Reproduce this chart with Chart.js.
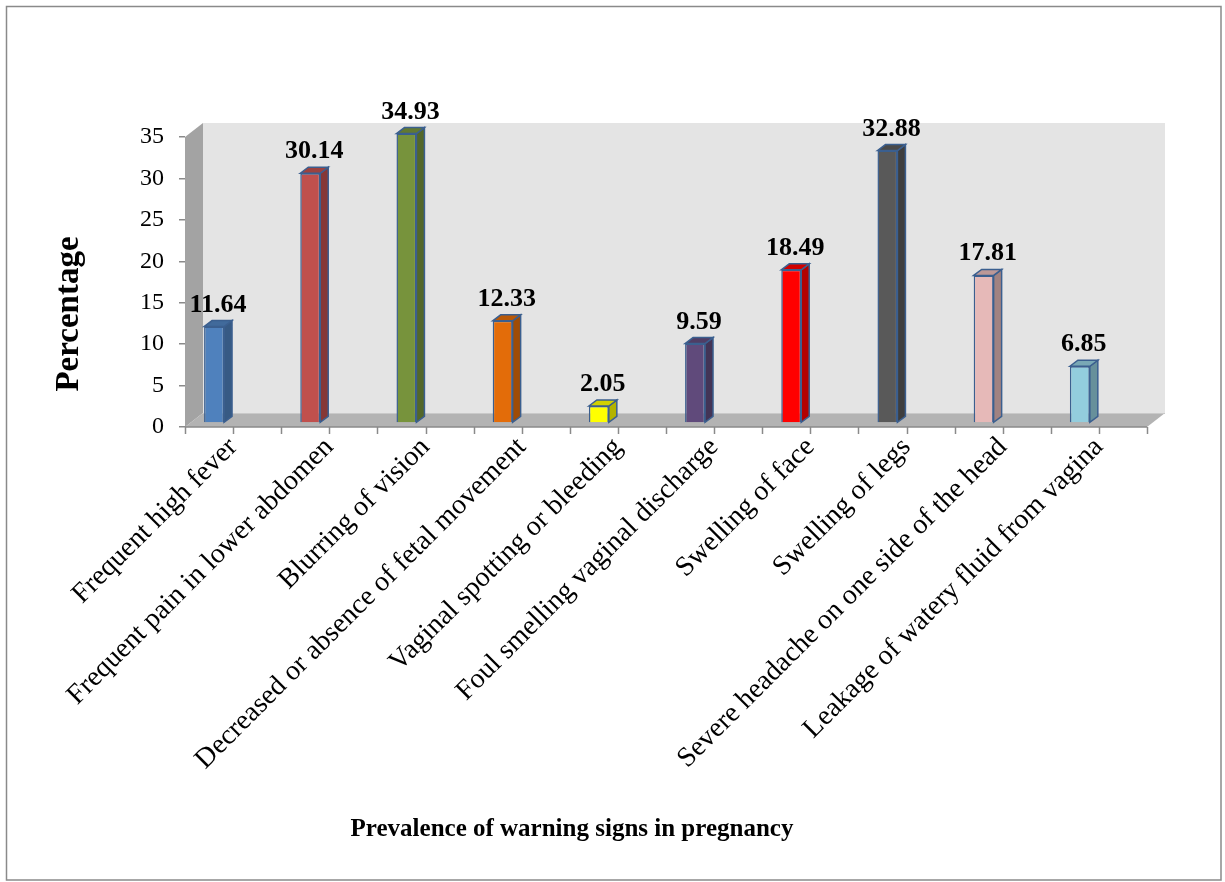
<!DOCTYPE html>
<html>
<head>
<meta charset="utf-8">
<script src="https://cdn.jsdelivr.net/npm/chart.js@4.4.1/dist/chart.umd.min.js"></script>
<style>
  html, body { margin: 0; padding: 0; background: #ffffff; }
  #wrap { position: relative; width: 1225px; height: 882px; }
</style>
</head>
<body>
<div id="wrap"><canvas id="c" width="1225" height="882"></canvas></div>
<script>
// ---------- data ----------
const categories = [
  'Frequent high fever',
  'Frequent pain in lower abdomen',
  'Blurring of vision',
  'Decreased or absence of fetal movement',
  'Vaginal spotting or bleeding',
  'Foul smelling vaginal discharge',
  'Swelling of face',
  'Swelling of legs',
  'Severe headache on one side of the head',
  'Leakage of watery fluid from vagina'
];
const values = [11.64, 30.14, 34.93, 12.33, 2.05, 9.59, 18.49, 32.88, 17.81, 6.85];
const emptySeries = [null, null, null, null, null, null, null, null, null, null];
const yTickValues = [0, 5, 10, 15, 20, 25, 30, 35];
const yAxisTitle = 'Percentage';
const xAxisTitle = 'Prevalence of warning signs in pregnancy';

// ---------- styles ----------
const barFill = ['#4f81bd', '#c0504d', '#77933c', '#e36c09', '#ffff00',
                 '#604a7b', '#ff0000', '#595959', '#e6b9b8', '#93cddd'];
const OUTLINE = '#3b5f8f';
const SERIF = '"Liberation Serif", "Times New Roman", serif';
const WALL = { dx: 18, dy: -14 };
const SHIFT = { dx: 5, dy: -4 };
const BDEPTH = { dx: 8, dy: -6 };

function shade(hex, f) {
  const n = parseInt(hex.slice(1), 16);
  const r = Math.round(((n >> 16) & 255) * f);
  const g = Math.round(((n >> 8) & 255) * f);
  const b = Math.round((n & 255) * f);
  return 'rgb(' + r + ',' + g + ',' + b + ')';
}

function poly(ctx, pts, fill, stroke, lw) {
  ctx.beginPath();
  ctx.moveTo(pts[0][0], pts[0][1]);
  for (let i = 1; i < pts.length; i++) ctx.lineTo(pts[i][0], pts[i][1]);
  ctx.closePath();
  if (fill) { ctx.fillStyle = fill; ctx.fill(); }
  if (stroke) { ctx.strokeStyle = stroke; ctx.lineWidth = lw || 1; ctx.stroke(); }
}

const scene3d = {
  id: 'scene3d',
  beforeDraw(chart) {
    const ctx = chart.ctx;
    ctx.save();
    ctx.fillStyle = '#ffffff';
    ctx.fillRect(0, 0, chart.width, chart.height);
    ctx.strokeStyle = '#8a8a8a';
    ctx.lineWidth = 1.5;
    ctx.strokeRect(6.5, 6.5, chart.width - 4 - 6.5, chart.height - 2 - 6.5);
    ctx.restore();
  },
  beforeDatasetsDraw(chart) {
    const ctx = chart.ctx;
    const a = chart.chartArea;
    const L = a.left, R = a.right, T = a.top, B = a.bottom;
    ctx.save();
    // back wall
    poly(ctx, [[L + WALL.dx, T + WALL.dy], [R + WALL.dx, T + WALL.dy],
               [R + WALL.dx, B + WALL.dy], [L + WALL.dx, B + WALL.dy]], '#e4e4e4');
    // left side wall
    poly(ctx, [[L, T], [L + WALL.dx, T + WALL.dy], [L + WALL.dx, B + WALL.dy], [L, B]], '#a3a3a3');
    // floor
    poly(ctx, [[L, B], [R, B], [R + WALL.dx, B + WALL.dy], [L + WALL.dx, B + WALL.dy]], '#b3b3b3');
    ctx.strokeStyle = '#c9c9c9';
    ctx.lineWidth = 1;
    ctx.beginPath();
    ctx.moveTo(L + WALL.dx, B + WALL.dy + 0.5);
    ctx.lineTo(R + WALL.dx, B + WALL.dy + 0.5);
    ctx.stroke();
    // x axis front edge and tick marks (20 half-category slots)
    ctx.strokeStyle = '#8a8a8a';
    ctx.lineWidth = 1.5;
    ctx.beginPath();
    ctx.moveTo(L, B); ctx.lineTo(R, B);
    const xs = chart.scales.x;
    const n = categories.length * 2;
    for (let i = 0; i <= n; i++) {
      const x = Math.round(xs.left + i * (xs.right - xs.left) / n) + 0.5;
      ctx.moveTo(x, B); ctx.lineTo(x, B + 7);
    }
    ctx.stroke();
    ctx.restore();
    // shift front faces to the bar depth plane
    ctx.save();
    ctx.translate(SHIFT.dx, SHIFT.dy);
  },
  afterDatasetsDraw(chart) {
    const ctx = chart.ctx;
    ctx.restore();
    const meta = chart.getDatasetMeta(0);
    ctx.save();
    meta.data.forEach((bar, i) => {
      if (values[i] == null) return;
      const p = bar.getProps(['x', 'y', 'base', 'width'], true);
      const left = p.x - p.width / 2 + SHIFT.dx;
      const right = p.x + p.width / 2 + SHIFT.dx;
      const top = p.y + SHIFT.dy;
      const base = p.base + SHIFT.dy;
      const col = barFill[i];
      // side face
      poly(ctx, [[right, top], [right + BDEPTH.dx, top + BDEPTH.dy],
                 [right + BDEPTH.dx, base + BDEPTH.dy], [right, base]],
           shade(col, 0.7), OUTLINE, 1.5);
      // top face
      poly(ctx, [[left, top], [left + BDEPTH.dx, top + BDEPTH.dy],
                 [right + BDEPTH.dx, top + BDEPTH.dy], [right, top]],
           shade(col, 0.82), OUTLINE, 1.5);
      // value label
      ctx.fillStyle = '#000000';
      ctx.font = 'bold 26px ' + SERIF;
      ctx.textAlign = 'center';
      ctx.textBaseline = 'alphabetic';
      ctx.fillText(values[i].toFixed(2), left + (right - left) / 2 + BDEPTH.dx / 2, top - 15);
    });
    ctx.restore();
  },
  afterDraw(chart) {
    const ctx = chart.ctx;
    ctx.save();
    ctx.fillStyle = '#000000';
    ctx.font = 'bold 25px ' + SERIF;
    ctx.textAlign = 'center';
    ctx.textBaseline = 'middle';
    ctx.fillText(xAxisTitle, 572, 830);
    ctx.translate(69, 314);
    ctx.rotate(-Math.PI / 2);
    ctx.font = 'bold 33px ' + SERIF;
    ctx.fillText(yAxisTitle, 0, 0);
    ctx.restore();
  }
};

new Chart(document.getElementById('c'), {
  type: 'bar',
  data: {
    labels: categories,
    datasets: [
      { data: values, backgroundColor: barFill, borderColor: OUTLINE, borderWidth: 1.5,
        categoryPercentage: 1.0, barPercentage: 0.415, clip: false },
      { data: emptySeries, backgroundColor: 'rgba(0,0,0,0)',
        categoryPercentage: 1.0, barPercentage: 0.415 }
    ]
  },
  options: {
    responsive: false,
    animation: false,
    devicePixelRatio: 1,
    layout: { padding: { left: 0, top: 137, right: 78, bottom: 0 } },
    plugins: { legend: { display: false }, tooltip: { enabled: false }, title: { display: false } },
    scales: {
      x: {
        grid: { display: false, drawTicks: false },
        border: { display: false },
        ticks: {
          autoSkip: false, minRotation: 45, maxRotation: 45, padding: 4,
          color: '#000000', font: { family: SERIF, size: 28 }
        },
        afterFit(s) { s.height = 882 - 427; }
      },
      y: {
        min: 0, max: 35,
        afterBuildTicks(s) { s.ticks = yTickValues.map(v => ({ value: v })); },
        grid: { drawOnChartArea: false, drawTicks: true, tickLength: 6, color: '#8a8a8a', lineWidth: 1.5 },
        border: { display: true, color: '#8a8a8a', width: 1 },
        ticks: { padding: 15, color: '#000000', font: { family: SERIF, size: 24 } },
        afterFit(s) { s.width = 185; }
      }
    }
  },
  plugins: [scene3d]
});
</script>
</body>
</html>
